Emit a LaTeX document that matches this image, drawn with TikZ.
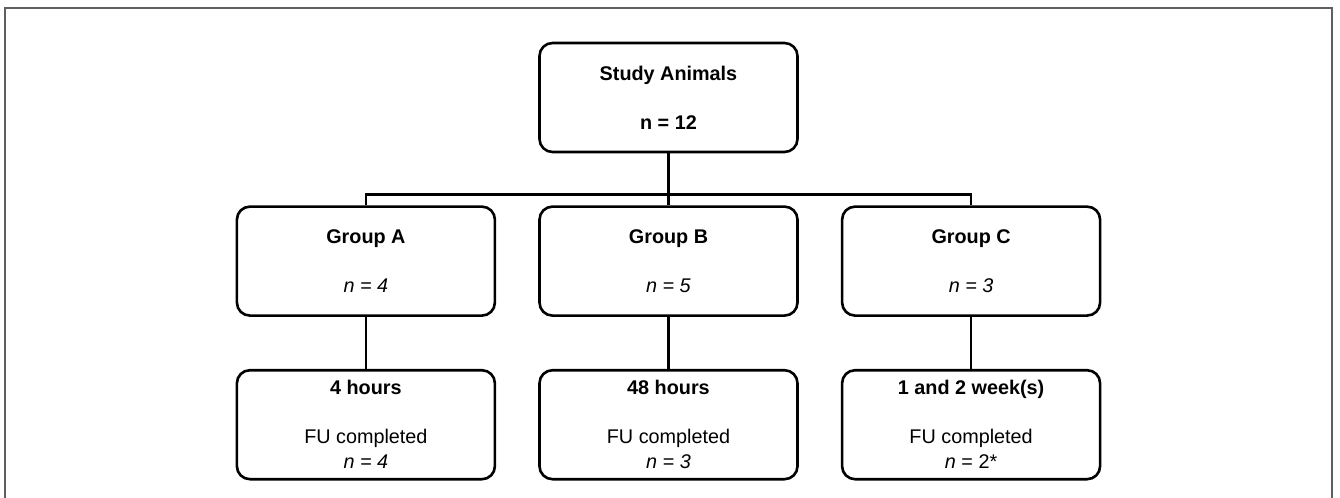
\documentclass[tikz,border=0pt]{standalone}
\usepackage{fontspec}
\setmainfont{Liberation Sans}
\usepackage{tikz}
\usetikzlibrary{positioning}
\usetikzlibrary{calc}
\definecolor{myframe}{RGB}{95,95,95}
\newcommand\mytext[2]{\textbf{#1}\\[12pt]#2}
\newcommand\mynode[4][]{%
  \node[mynode,#1] (#2) {\mytext{#3}{#4}};
}

\begin{document}
\begin{tikzpicture}[
node distance=26pt and 21pt,
mynode/.style={
  rectangle,
  rounded corners=6.5pt,
  draw,
  line width=1.3pt,
  minimum width=129pt,
  minimum height=54.5pt,
  inner sep=0pt,
  align=center,
  font=\fontsize{9.9}{12.5}\selectfont},
link/.style={line width=1.3pt}
]
\useasboundingbox (0,0) rectangle (670pt,-249pt);
\draw[myframe, line width=1pt] (2.5pt,-250pt) -- (2.5pt,-4pt) -- (666pt,-4pt) -- (666pt,-250pt);
\mynode[at={(334.25pt,-48.75pt)}]{animals}{Study Animals}{\textbf{n = 12}}
\mynode[below=of animals]{groupB}{Group B}{\textit{n = 5}}
\mynode[left=of groupB]{groupA}{Group A}{\textit{n = 4}}
\mynode[right=of groupB]{groupC}{Group C}{\textit{n = 3}}
\mynode[below=of groupA]{fuA}{4 hours}{FU completed\\\textit{n = 4}}
\mynode[below=of groupB]{fuB}{48 hours}{FU completed\\\textit{n = 3}}
\mynode[below=of groupC]{fuC}{1 and 2 week(s)}{FU completed\\\textit{n} = 2*}
\draw[link] (animals.south) -- (groupB.north);
\draw[link] (animals.south) -- ++(0,-20.5pt) -| (groupA.north);
\draw[link] (animals.south) -- ++(0,-20.5pt) -| (groupC.north);
\draw[link] (groupA) -- (fuA);
\draw[link] (groupB) -- (fuB);
\draw[link] (groupC) -- (fuC);
\end{tikzpicture}
\end{document}
